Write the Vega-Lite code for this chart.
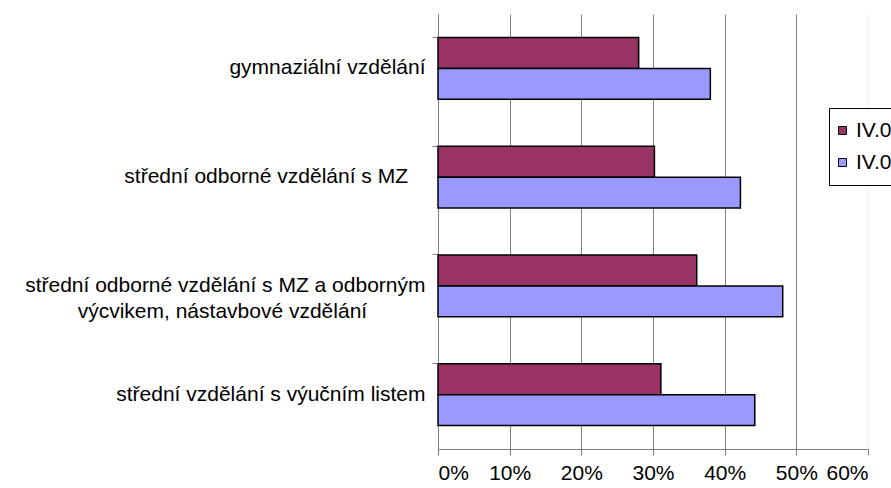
{
  "$schema": "https://vega.github.io/schema/vega-lite/v6.json",
  "autosize": {"type": "none"},
  "padding": {"left": 438, "top": 14, "right": 23, "bottom": 39},
  "width": 430,
  "height": 435,
  "background": "white",
  "config": {
    "view": {"stroke": null},
    "font": "Liberation Sans",
    "axis": {"labelFont": "Liberation Sans", "labelColor": "black"}
  },
  "data": {
    "values": [
      {"category": "gymnaziální vzdělání", "series": "IV.07", "value": 0.28},
      {"category": "gymnaziální vzdělání", "series": "IV.08", "value": 0.38},
      {"category": "střední odborné vzdělání s MZ ", "series": "IV.07", "value": 0.302},
      {"category": "střední odborné vzdělání s MZ ", "series": "IV.08", "value": 0.422},
      {"category": "střední odborné vzdělání s MZ a odborným|výcvikem, nástavbové vzdělání", "series": "IV.07", "value": 0.361},
      {"category": "střední odborné vzdělání s MZ a odborným|výcvikem, nástavbové vzdělání", "series": "IV.08", "value": 0.481},
      {"category": "střední vzdělání s výučním listem", "series": "IV.07", "value": 0.311},
      {"category": "střední vzdělání s výučním listem", "series": "IV.08", "value": 0.442}
    ]
  },
  "layer": [
    {
      "mark": {"type": "bar", "stroke": "black", "strokeWidth": 1.5},
      "encoding": {
        "y": {
          "field": "category",
          "type": "nominal",
          "sort": null,
          "scale": {"paddingInner": 0.43, "paddingOuter": 0.215},
          "axis": {
            "title": null,
            "ticks": false,
            "domain": false,
            "labelFontSize": 21,
            "labelPadding": 13,
            "labelLimit": 0,
            "labelLineHeight": 26,
            "labelExpr": "indexof(datum.label, '|') >= 0 ? [split(datum.label, '|')[0], split(datum.label, '|')[1] + '\u00a0\u00a0\u00a0\u00a0\u00a0\u00a0\u00a0\u00a0\u00a0\u00a0\u2060'] : (datum.label == 'střední odborné vzdělání s MZ ' ? datum.label + '\u00a0\u00a0\u2060' : datum.label)"
          }
        },
        "yOffset": {"field": "series", "type": "nominal", "sort": ["IV.07", "IV.08"]},
        "x": {
          "field": "value",
          "type": "quantitative",
          "scale": {"domain": [0, 0.6], "nice": false},
          "axis": {
            "title": null,
            "values": [0, 0.1, 0.2, 0.3, 0.4, 0.5, 0.6],
            "format": ".0%",
            "labelFontSize": 21,
            "labelPadding": 7,
            "tickSize": 6,
            "tickColor": "#808080",
            "domainColor": "#808080",
            "grid": true,
            "gridColor": {"condition": {"test": "datum.value >= 0.6", "value": "#f0f0f0"}, "value": "#808080"},
            "gridWidth": 1
          }
        },
        "color": {
          "field": "series",
          "type": "nominal",
          "scale": {"domain": ["IV.07", "IV.08"], "range": ["#993366", "#9999FF"]},
          "legend": {
            "title": null,
            "orient": "none",
            "legendX": 391,
            "legendY": 94,
            "strokeColor": "black",
            "fillColor": "white",
            "padding": 12,
            "symbolType": "square",
            "symbolSize": 64,
            "symbolStrokeColor": "black",
            "symbolStrokeWidth": 1,
            "symbolOpacity": 1,
            "symbolOffset": -9,
            "labelOffset": 3,
            "labelFontSize": 21,
            "labelFont": "Liberation Sans",
            "labelColor": "black",
            "rowPadding": 10
          }
        }
      }
    },
    {
      "mark": {"type": "tick", "opacity": 0},
      "encoding": {
        "y": {
          "field": "category",
          "type": "nominal",
          "sort": null,
          "axis": {
            "title": null,
            "orient": "left",
            "labels": false,
            "bandPosition": 0,
            "tickSize": 6,
            "tickColor": "#808080",
            "domainColor": "#808080"
          }
        }
      }
    }
  ],
  "resolve": {"axis": {"y": "independent"}}
}
